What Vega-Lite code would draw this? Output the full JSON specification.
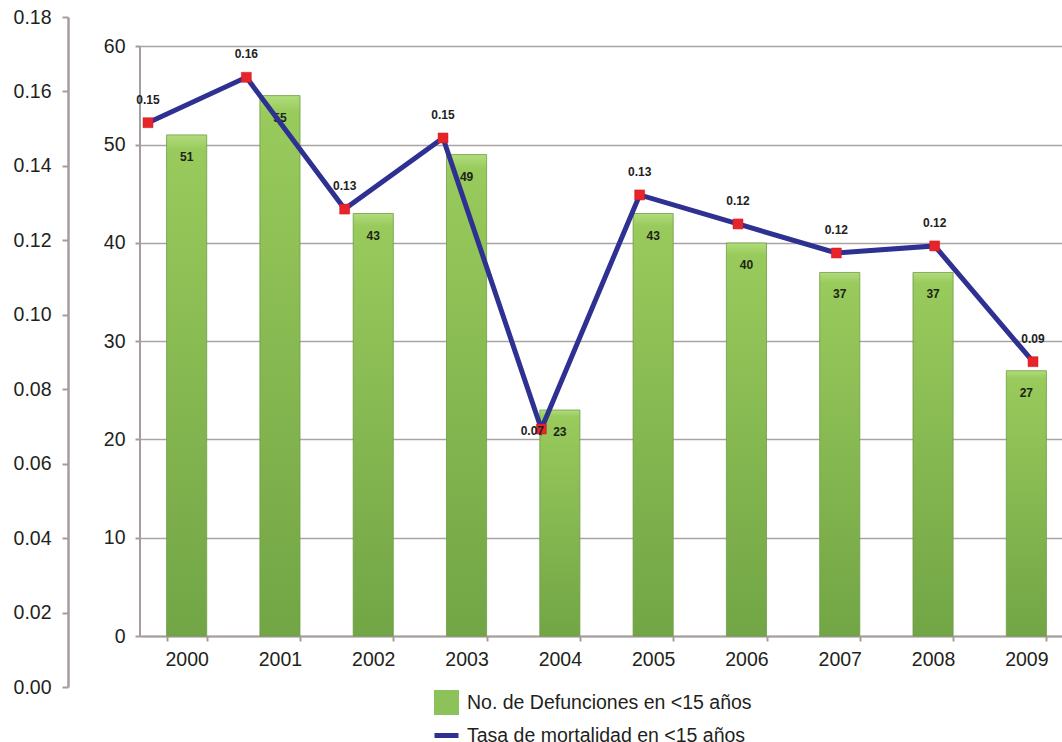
{
  "$schema": "https://vega.github.io/schema/vega-lite/v6.json",
  "autosize": {"type": "none"},
  "width": 922,
  "height": 670,
  "padding": {"left": 140, "top": 17, "right": 0, "bottom": 55},
  "background": "white",
  "config": {
    "view": {"stroke": null},
    "font": "Liberation Sans",
    "axis": {"labelFont": "Liberation Sans", "labelFontSize": 19.5, "labelColor": "#231f20", "title": null}
  },
  "data": {
    "values": [
      {"year": "2000", "count": 51, "rate": 0.1516},
      {"year": "2001", "count": 55, "rate": 0.1638},
      {"year": "2002", "count": 43, "rate": 0.1284},
      {"year": "2003", "count": 49, "rate": 0.1475},
      {"year": "2004", "count": 23, "rate": 0.0693},
      {"year": "2005", "count": 43, "rate": 0.1322},
      {"year": "2006", "count": 40, "rate": 0.1244},
      {"year": "2007", "count": 37, "rate": 0.1166},
      {"year": "2008", "count": 37, "rate": 0.1185},
      {"year": "2009", "count": 27, "rate": 0.0874}
    ]
  },
  "layer": [
    {
      "encoding": {
        "x": {
          "field": "year", "type": "nominal", "sort": null,
          "scale": {"range": [0, 933], "paddingInner": 0.57, "paddingOuter": 0.285},
          "axis": {
            "title": null, "labelAngle": 0, "offset": -51,
            "domainColor": "#a59d9d", "domainWidth": 2,
            "tickBand": "extent", "tickColor": "#a59d9d", "tickSize": 5, "tickWidth": 2,
            "labelPadding": 9, "grid": false
          }
        },
        "y": {
          "field": "count", "type": "quantitative",
          "scale": {"domain": [-5.19, 63.0], "nice": false, "zero": false},
          "axis": {
            "title": null, "orient": "left", "offset": 0,
            "values": [0, 10, 20, 30, 40, 50, 60],
            "domain": false, "grid": true, "gridColor": "#aaa3a3", "gridWidth": 1.5,
            "tickColor": "#a59d9d", "tickSize": 5, "tickWidth": 2, "labelPadding": 10
          }
        }
      },
      "layer": [
        {
          "mark": {"type": "rule", "color": "#a59d9d", "strokeWidth": 2},
          "encoding": {"x": {"value": 0}, "y": {"datum": 0}, "y2": {"datum": 60}}
        },
        {
          "mark": {
            "type": "bar",
            "fill": {
              "x1": 0, "y1": 0, "x2": 0, "y2": 1, "gradient": "linear",
              "stops": [
                {"offset": 0, "color": "#b2dc7c"},
                {"offset": 0.03, "color": "#98ca5c"},
                {"offset": 1, "color": "#72a545"}
              ]
            },
            "stroke": "#6f9c45", "strokeWidth": 0.8
          },
          "encoding": {"y2": {"datum": 0}}
        },
        {
          "mark": {"type": "text", "baseline": "middle", "dy": 22, "fontSize": 12, "fontWeight": "bold", "color": "#1c2414", "font": "Liberation Sans"},
          "encoding": {"text": {"field": "count", "type": "quantitative"}}
        }
      ]
    },
    {
      "encoding": {
        "x": {
          "field": "year", "type": "nominal", "sort": null,
          "scale": {"type": "point", "range": [8, 893], "padding": 0},
          "axis": null
        },
        "y": {
          "field": "rate", "type": "quantitative",
          "scale": {"domain": [0, 0.18], "nice": false, "zero": false},
          "axis": {
            "title": null, "orient": "left", "offset": 72,
            "values": [0, 0.02, 0.04, 0.06, 0.08, 0.1, 0.12, 0.14, 0.16, 0.18],
            "format": ".2f", "grid": false,
            "domainColor": "#a59d9d", "domainWidth": 2.5,
            "tickColor": "#a59d9d", "tickSize": 6, "tickWidth": 2, "labelPadding": 11
          }
        }
      },
      "layer": [
        {
          "mark": {"type": "line", "strokeWidth": 5},
          "encoding": {
            "color": {
              "datum": "Tasa de mortalidad en <15 años",
              "scale": {
                "domain": ["No. de Defunciones en <15 años", "Tasa de mortalidad en <15 años"],
                "range": ["#8dc25a", "#2e3192"]
              },
              "legend": {
                "title": null, "orient": "none", "legendX": 294, "legendY": 673,
                "direction": "vertical", "padding": 0, "rowPadding": -2,
                "labelFontSize": 19.5, "labelFont": "Liberation Sans", "labelColor": "#231f20", "labelOffset": 8, "labelLimit": 0,
                "symbolSize": 400,
                "encode": {
                  "symbols": {
                    "update": {
                      "shape": {"signal": "datum.value === 'Tasa de mortalidad en <15 años' ? 'stroke' : 'square'"},
                      "fill": {"signal": "datum.value === 'Tasa de mortalidad en <15 años' ? 'transparent' : '#8dc25a'"},
                      "stroke": {"signal": "datum.value === 'Tasa de mortalidad en <15 años' ? '#2e3192' : 'transparent'"},
                      "strokeWidth": {"value": 5},
                      "size": {"signal": "datum.value === 'Tasa de mortalidad en <15 años' ? 576 : 400"},
                      "opacity": {"value": 1}
                    }
                  }
                }
              }
            }
          }
        },
        {
          "mark": {"type": "square", "size": 100, "filled": true, "color": "#e8232a", "opacity": 1, "stroke": "#c81e24", "strokeWidth": 0.5}
        },
        {
          "transform": [{"filter": "datum.year !== '2004'"}],
          "mark": {"type": "text", "baseline": "middle", "dy": -23, "fontSize": 12, "fontWeight": "bold", "color": "#222222", "font": "Liberation Sans"},
          "encoding": {"text": {"field": "rate", "type": "quantitative", "format": ".2f"}}
        },
        {
          "transform": [{"filter": "datum.year === '2004'"}],
          "mark": {"type": "text", "baseline": "middle", "dx": -9, "dy": 2, "fontSize": 12, "fontWeight": "bold", "color": "#222222", "font": "Liberation Sans"},
          "encoding": {"text": {"field": "rate", "type": "quantitative", "format": ".2f"}}
        }
      ]
    }
  ],
  "resolve": {"scale": {"x": "independent", "y": "independent"}}
}
